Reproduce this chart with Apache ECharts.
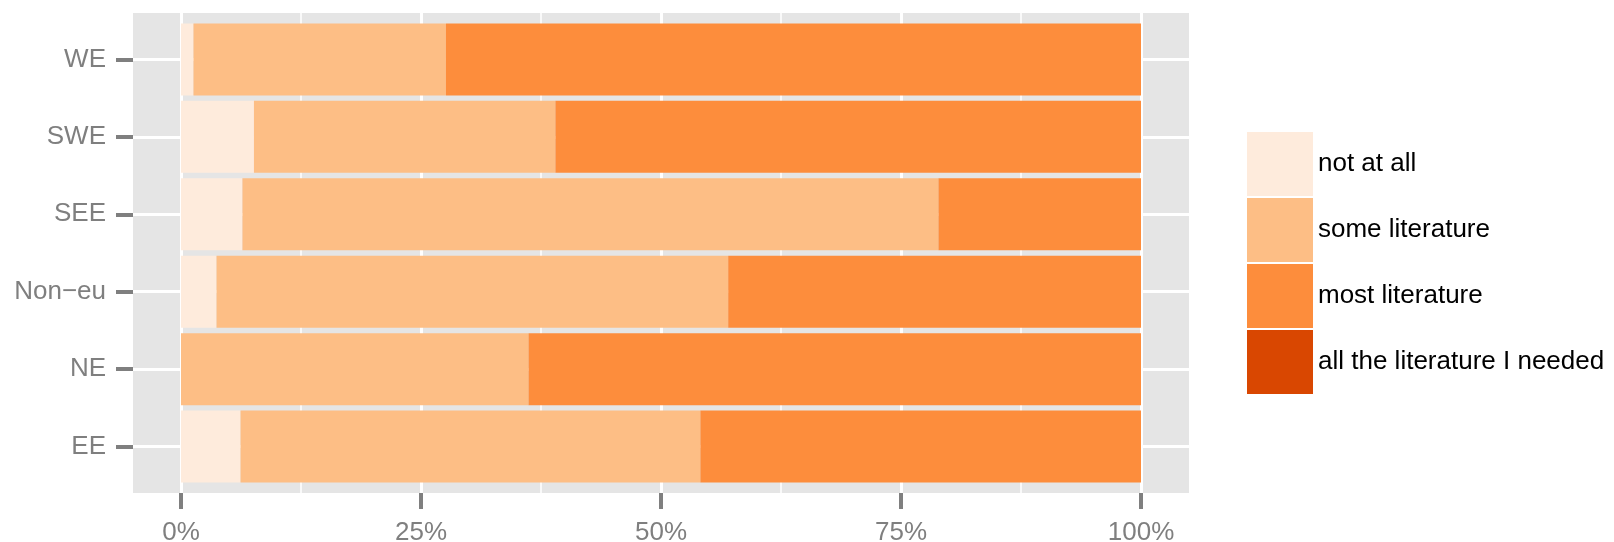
<!DOCTYPE html>
<html>
<head>
<meta charset="utf-8">
<script src="https://cdn.jsdelivr.net/npm/echarts@6.0.0/dist/echarts.min.js"></script>
<style>
html, body { margin: 0; padding: 0; background: #fff; }
#chart { width: 1614px; height: 542px; }
</style>
</head>
<body>
<div id="chart"></div>
<script>
// regions listed bottom to top, the way the plot stacks them
var regions = ['EE', 'NE', 'Non\u2212eu', 'SEE', 'SWE', 'WE'];
// share of answers per region, in percent
var notAtAll = [6.2, 0, 3.7, 6.4, 7.6, 1.3];
var someLit = [47.9, 36.2, 53.3, 72.5, 31.4, 26.3];
var mostLit = [45.9, 63.8, 43.0, 21.1, 61.0, 72.4];
var allLit = [0, 0, 0, 0, 0, 0];
var levels = ['not at all', 'some literature', 'most literature', 'all the literature I needed'];
var pctTicks = [0, 25, 50, 75, 100];
var minorTicks = [12.5, 37.5, 62.5, 87.5];

var colors = ['#FEEBDC', '#FDBE85', '#FD8D3C', '#D94701'];
var grey = '#7F7F7F';
var font = 'Liberation Sans, Arial, sans-serif';

var chart = echarts.init(document.getElementById('chart'));
var seriesData = [notAtAll, someLit, mostLit, allLit];
var regionIdx = regions.map(function (r, i) { return i; });

var option = {
    animation: false,
    color: colors,
    grid: [
        // bars
        { left: 181, right: 473, top: 20.74, bottom: 56.74, outerBoundsMode: 'none' },
        // grey panel with the expanded range, like ggplot
        { left: 133, right: 425, top: 13, bottom: 49, show: true, backgroundColor: '#E5E5E5', borderWidth: 0, outerBoundsMode: 'none' }
    ],
    xAxis: [
        { type: 'value', gridIndex: 0, min: 0, max: 100, show: false },
        {
            type: 'value', gridIndex: 1, min: -5, max: 105, position: 'bottom',
            axisLine: { show: false, onZero: false },
            axisTick: { customValues: pctTicks, length: 16, lineStyle: { color: grey, width: 4 } },
            axisLabel: { customValues: pctTicks, formatter: '{value}%', color: grey, fontSize: 26, margin: 27, fontFamily: font },
            splitLine: { lineStyle: { color: '#fff', width: 3 } }
        },
        {
            type: 'value', gridIndex: 1, min: -5, max: 105, position: 'top',
            axisLine: { show: false, onZero: false },
            axisTick: { show: false, customValues: minorTicks },
            axisLabel: { show: false },
            splitLine: { lineStyle: { color: '#fff', width: 1.5 } }
        }
    ],
    yAxis: [
        { type: 'category', gridIndex: 0, data: regions, show: false },
        {
            type: 'value', gridIndex: 1, min: -0.6, max: 5.6,
            axisLine: { show: false, onZero: false },
            axisTick: { customValues: regionIdx, length: 17, lineStyle: { color: grey, width: 4 } },
            axisLabel: {
                customValues: regionIdx, color: grey, fontSize: 26, margin: 27, fontFamily: font,
                formatter: function (v) { return regions[Math.round(v)]; }
            },
            splitLine: { lineStyle: { color: '#fff', width: 3 } }
        }
    ],
    legend: {
        orient: 'vertical',
        left: 1242,
        top: 127,
        itemWidth: 66,
        itemHeight: 64,
        itemGap: 2,
        icon: 'rect',
        selectedMode: false,
        data: levels,
        textStyle: { fontSize: 26, color: '#000', fontFamily: font }
    },
    series: levels.map(function (name, i) {
        return {
            name: name,
            type: 'bar',
            xAxisIndex: 0,
            yAxisIndex: 0,
            stack: 'lit',
            barCategoryGap: '7%',
            data: seriesData[i]
        };
    })
};

option && chart.setOption(option);
window.addEventListener('resize', function () {
    chart.resize();
});
</script>
</body>
</html>
